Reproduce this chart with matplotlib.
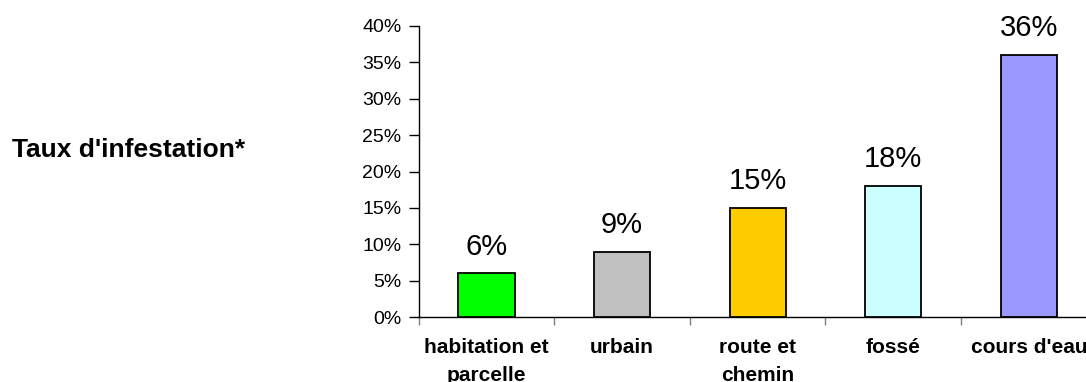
import matplotlib
matplotlib.use("Agg")
import matplotlib.pyplot as plt
from matplotlib.ticker import FuncFormatter, MultipleLocator

# data
categories = ["habitation et\nparcelle", "urbain", "route et\nchemin", "fossé", "cours d'eau"]
rates = [0.06, 0.09, 0.15, 0.18, 0.36]
bar_labels = ["6%", "9%", "15%", "18%", "36%"]
bar_colors = ["#00FF00", "#C0C0C0", "#FFCC00", "#CCFFFF", "#9999FF"]

plt.rcParams["font.family"] = ["Liberation Sans", "DejaVu Sans"]


def main():
    fig = plt.figure(figsize=(10.86, 3.82), dpi=100)
    ax = fig.add_axes([0.3855, 0.170, 0.6243, 0.762])

    x = list(range(len(categories)))
    ax.bar(x, rates, width=0.415, color=bar_colors, edgecolor="black", linewidth=1.3, zorder=3)

    for xi, val, lab in zip(x, rates, bar_labels):
        ax.annotate(lab, (xi, val), xytext=(0, 13.5), textcoords="offset points",
                    ha="center", va="baseline", fontsize=21, color="black")

    ax.set_xlim(-0.5, len(categories) - 0.5)
    ax.set_ylim(0, 0.40)
    ax.yaxis.set_major_locator(MultipleLocator(0.05))
    ax.yaxis.set_major_formatter(FuncFormatter(lambda v, p: f"{v * 100:.0f}%"))
    ax.tick_params(axis="y", direction="out", length=7, width=1, pad=5.5, labelsize=14)

    ax.set_xticks(x)
    ax.set_xticklabels(categories, fontsize=15, fontweight="bold", linespacing=1.6)
    ax.set_xticks([i - 0.5 for i in range(len(categories) + 1)], minor=True)
    ax.tick_params(axis="x", which="major", length=0, pad=15)
    ax.tick_params(axis="x", which="minor", direction="out", length=6, width=1, color="#808080")

    for side in ("top", "right"):
        ax.spines[side].set_visible(False)
    ax.spines["left"].set_linewidth(1)
    ax.spines["bottom"].set_linewidth(1)

    fig.text(12 / 1086, (382 - 157) / 382, "Taux d'infestation*", fontsize=19,
             fontweight="bold", ha="left", va="baseline")

    fig.savefig("out.png", dpi=100)
    plt.close(fig)


if __name__ == "__main__":
    main()
